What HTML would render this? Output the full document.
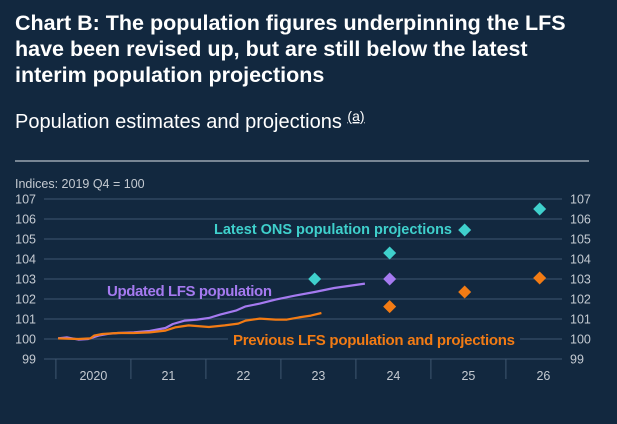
<!DOCTYPE html>
<html><head><meta charset="utf-8"><style>
body{margin:0;width:617px;height:419px;background:#12283f;overflow:hidden;font-family:"Liberation Sans",sans-serif;}
</style></head><body>
<svg width="617" height="419" xmlns="http://www.w3.org/2000/svg" style="font-family:'Liberation Sans',sans-serif">
<rect width="617" height="419" fill="#12283f"/>
<text x="15" y="30" fill="#fff" font-size="21.5" font-weight="bold">Chart B: The population figures underpinning the LFS</text>
<text x="15" y="56" fill="#fff" font-size="21.5" font-weight="bold">have been revised up, but are still below the latest</text>
<text x="15" y="82" fill="#fff" font-size="21.5" font-weight="bold">interim population projections</text>
<text x="15" y="128" fill="#fff" font-size="20">Population estimates and projections <tspan font-size="14" dy="-7" text-decoration="underline">(a)</tspan></text>
<line x1="15" y1="161" x2="589" y2="161" stroke="#9aa5b1" stroke-width="1.5"/>
<text x="15" y="188" fill="#c4cad1" font-size="12.5">Indices: 2019 Q4 = 100</text>
<g id="grid"></g><g id="axes"></g><g id="series"></g>
<rect x="228" y="328" width="292" height="20" fill="#12283f"/>
<text x="214" y="234" fill="#3fd0cc" font-size="14.5" font-weight="bold" textLength="238">Latest ONS population projections</text>
<text x="107" y="296" fill="#a57af0" font-size="15" font-weight="bold" textLength="165">Updated LFS population</text>
<text x="233" y="345" fill="#f27b14" font-size="15" font-weight="bold" textLength="282">Previous LFS population and projections</text>
<g id="marks"></g>
</svg>
<script>
const yTicks=[99,100,101,102,103,104,105,106,107];
const yearLabels=["2020","21","22","23","24","25","26"];
const updT=[2020.03,2020.15,2020.30,2020.43,2020.57,2020.72,2020.83,2021.04,2021.25,2021.46,2021.56,2021.72,2021.88,2022.04,2022.19,2022.40,2022.53,2022.72,2022.93,2023.19,2023.45,2023.71,2024.12];
const updV=[100.03,100.08,99.97,100,100.17,100.27,100.3,100.33,100.4,100.55,100.75,100.92,100.97,101.05,101.22,101.42,101.63,101.77,101.97,102.17,102.35,102.55,102.77];
const prevT=[2020.03,2020.30,2020.46,2020.51,2020.62,2020.83,2021.04,2021.25,2021.46,2021.59,2021.77,2022.04,2022.25,2022.43,2022.53,2022.72,2022.93,2023.08,2023.24,2023.40,2023.54];
const prevV=[100.03,100,100.03,100.17,100.25,100.3,100.3,100.33,100.42,100.58,100.68,100.6,100.68,100.77,100.92,101.02,100.97,100.97,101.08,101.17,101.3];
const projYears=[2023,2024,2025,2026];
const onsV=[103,104.3,105.45,106.5];
const updProjYears=[2024];
const updProjV=[103];
const prevProjYears=[2024,2025,2026];
const prevProjV=[101.62,102.35,103.05];
const NS="http://www.w3.org/2000/svg";
const X=t=>55.9+75*(t-2020);
const Y=v=>339-(v-100)*20;
function mk(tag,attrs,parent){const e=document.createElementNS(NS,tag);for(const k in attrs)e.setAttribute(k,attrs[k]);document.getElementById(parent).appendChild(e);return e;}
yTicks.forEach(v=>{
 const l=mk('line',{x1:44,x2:562,y1:Y(v),y2:Y(v),stroke:'#3f5670','stroke-width':1},'grid');
 
 
 const a=mk('text',{x:36,y:Y(v)+4.5,fill:'#c4cad1','font-size':12.5,'text-anchor':'end'},'axes');a.textContent=v;
 
 
 const b=mk('text',{x:570,y:Y(v)+4.5,fill:'#c4cad1','font-size':12.5},'axes');b.textContent=v;
 
 
});
yearLabels.forEach((s,i)=>{
 const x0=X(2020+i);
 const l=mk('line',{x1:x0,x2:x0,y1:Y(99),y2:Y(99)+20,stroke:'#3f5670'},'axes');
 
 
 const t=mk('text',{x:X(2020+i+0.5),y:380,fill:'#c4cad1','font-size':12.5,'text-anchor':'middle'},'axes');t.textContent=s;
 
 
});
function line(ts,vs,col,name){
 const d=ts.map((t,i)=>(i?'L':'M')+X(t).toFixed(1)+','+Y(vs[i]).toFixed(1)).join(' ');
 const p=mk('path',{d:d,fill:'none',stroke:col,'stroke-width':2.2,'stroke-linejoin':'round'},'series');
 
 
}
line(updT,updV,'#a57af0','updated-lfs-line');
line(prevT,prevV,'#f27b14','previous-lfs-line');
function diamonds(ys,vs,col,name){ys.forEach((yr,i)=>{
 const cx=X(yr+0.45),cy=Y(vs[i]);
 const p=mk('polygon',{points:`${cx},${cy-6.5} ${cx+6.5},${cy} ${cx},${cy+6.5} ${cx-6.5},${cy}`,fill:col},'marks');
 
 
});}
diamonds(projYears,onsV,'#3fd0cc','ons-projection-point');
diamonds(updProjYears,updProjV,'#a57af0','updated-lfs-projection-point');
diamonds(prevProjYears,prevProjV,'#f27b14','previous-lfs-projection-point');
</script>
</body></html>
